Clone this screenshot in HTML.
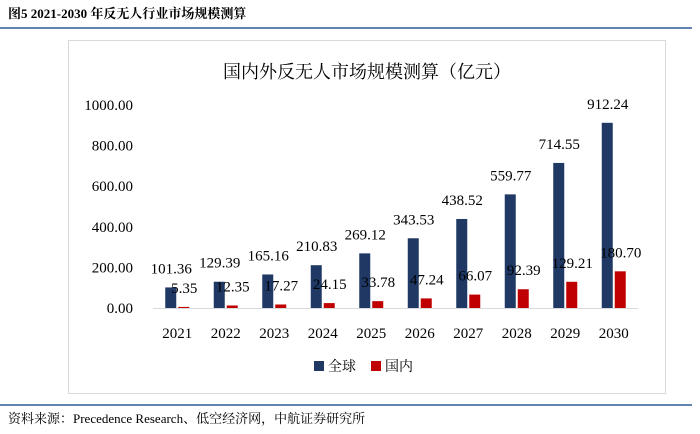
<!DOCTYPE html>
<html><head><meta charset="utf-8"><style>
body{margin:0;width:700px;height:429px;background:#fff;overflow:hidden;font-family:"Liberation Serif","Noto Serif CJK SC",serif;}
</style></head><body>
<svg width="700" height="429">
<text x="8" y="18" font-size="13" font-weight="bold" fill="#000">图5 2021-2030 年反无人行业市场规模测算</text>
<line x1="0" y1="28" x2="692" y2="28" stroke="#2e5c9a" stroke-width="1.5"/>
<rect x="68.5" y="40.5" width="597" height="353" fill="#fff" stroke="#d9d9d9"/>
<text x="367" y="78" font-size="18" text-anchor="middle" fill="#000">国内外反无人市场规模测算（亿元）</text>
<g id="yaxis"></g><g id="bars"></g><g id="xaxis"></g>
<g>
<rect x="314" y="361" width="10" height="10" fill="#1f3864"/>
<text x="328" y="371" font-size="14">全球</text>
<rect x="371" y="361" width="10" height="10" fill="#c00000"/>
<text x="385" y="371" font-size="14">国内</text>
</g>
<line x1="0" y1="405" x2="692" y2="405" stroke="#2e5c9a" stroke-width="1.5"/>
<text x="8" y="423" font-size="13" fill="#000">资料来源：Precedence Research、低空经济网，中航证券研究所</text>
</svg>
<script>
const categories=["2021","2022","2023","2024","2025","2026","2027","2028","2029","2030"];
const globalValues=[101.36,129.39,165.16,210.83,269.12,343.53,438.52,559.77,714.55,912.24];
const domesticValues=[5.35,12.35,17.27,24.15,33.78,47.24,66.07,92.39,129.21,180.70];
const yTicks=[0,200,400,600,800,1000];
const NS="http://www.w3.org/2000/svg";
const y0=308,yTop=105,yMax=1000,xL=153,step=48.5;
const Y=v=>y0-(y0-yTop)*v/yMax;
const X=i=>xL+step*(i+0.5);
function mk(tag,attrs,txt){const e=document.createElementNS(NS,tag);for(const k in attrs)e.setAttribute(k,attrs[k]);if(txt!==undefined)e.textContent=txt;return e;}
const ya=document.getElementById('yaxis');
yTicks.forEach(t=>{const el=mk('text',{x:133,y:Y(t)+5,'font-size':15,'text-anchor':'end'},t.toFixed(2));


ya.appendChild(el);});
const base=mk('line',{x1:xL,y1:y0+0.5,x2:xL+step*10,y2:y0+0.5,stroke:'#d9d9d9'});


ya.appendChild(base);
const bg=document.getElementById('bars'),xa=document.getElementById('xaxis');
categories.forEach((c,i)=>{
 const cx=X(i);
 const g=mk('rect',{x:cx-12,y:Y(globalValues[i]),width:11,height:y0-Y(globalValues[i]),fill:'#1f3864'});
 
 
 bg.appendChild(g);
 const d=mk('rect',{x:cx+1,y:Y(domesticValues[i]),width:11,height:y0-Y(domesticValues[i]),fill:'#c00000'});
 
 
 bg.appendChild(d);
 const gl=mk('text',{x:cx-6,y:Y(globalValues[i])-14,'font-size':15,'text-anchor':'middle'},globalValues[i].toFixed(2));
 
 
 bg.appendChild(gl);
 const dl=mk('text',{x:cx+7,y:Y(domesticValues[i])-14,'font-size':15,'text-anchor':'middle'},domesticValues[i].toFixed(2));
 
 
 bg.appendChild(dl);
 const xl=mk('text',{x:cx,y:338,'font-size':15,'text-anchor':'middle'},c);
 
 
 xa.appendChild(xl);
});
</script>
</body></html>
